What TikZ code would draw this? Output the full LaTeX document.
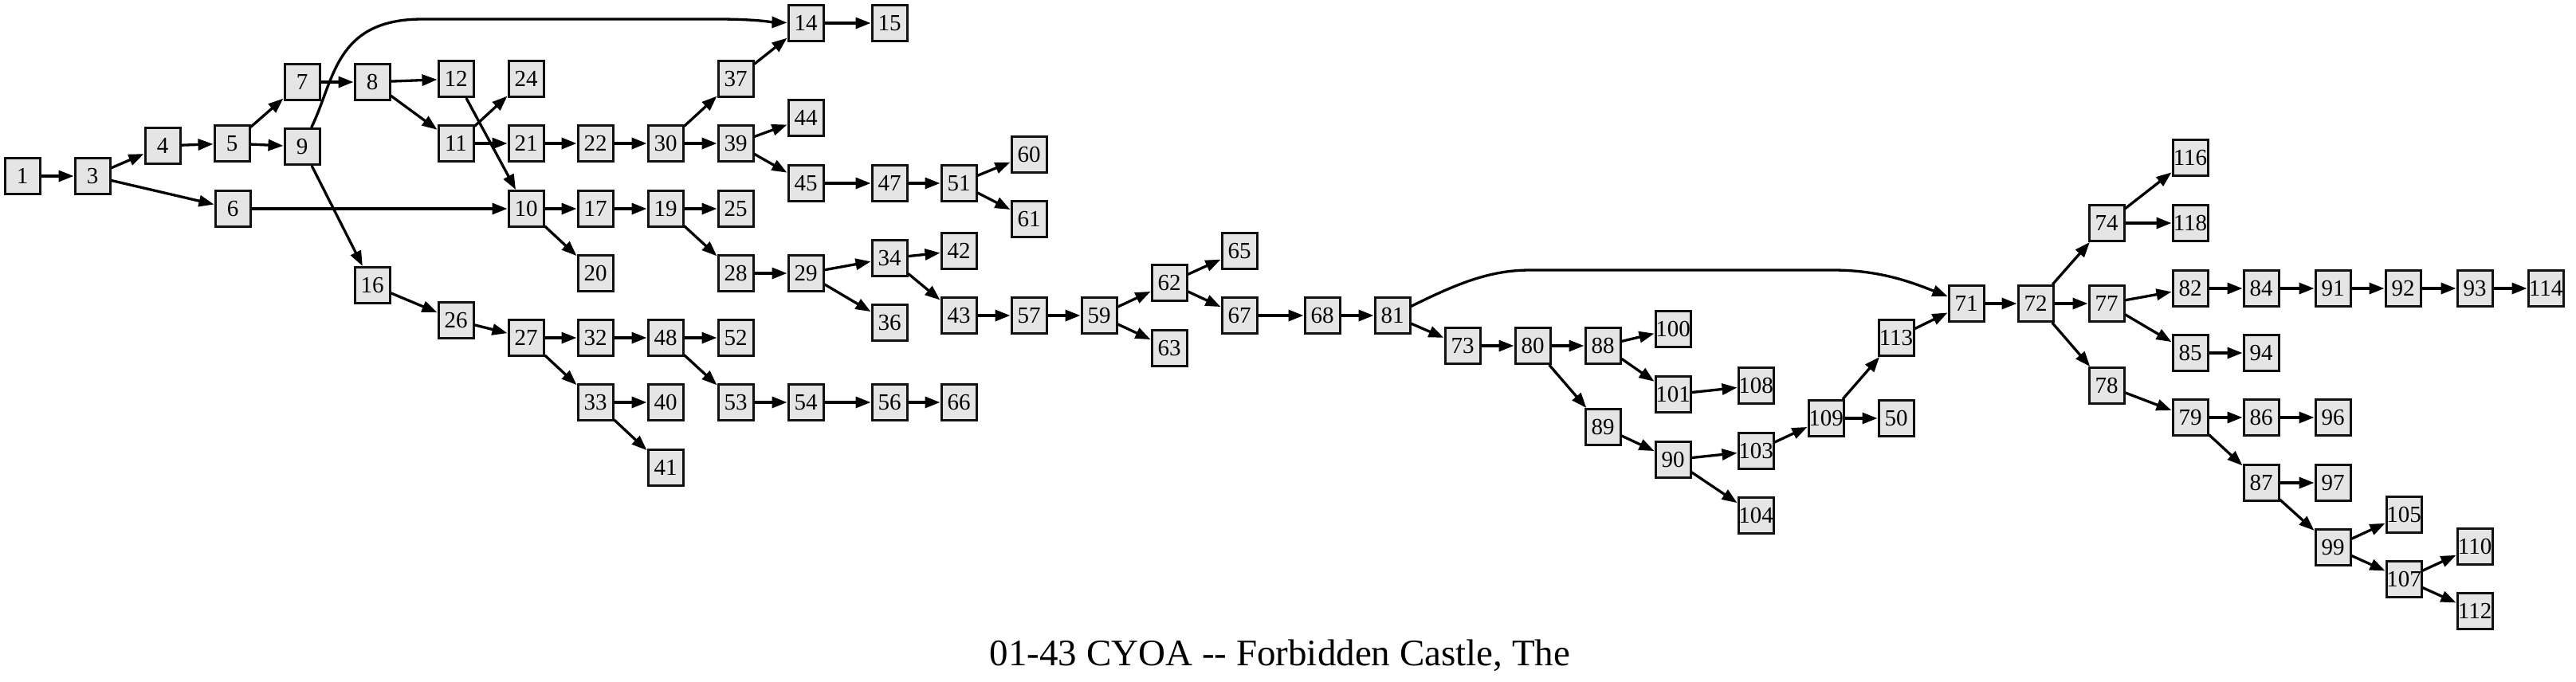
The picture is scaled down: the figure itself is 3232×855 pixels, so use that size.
\documentclass[tikz,border=0pt]{standalone}
\usepackage{fontspec}
\setmainfont{Liberation Serif}
\usetikzlibrary{arrows.meta}
\definecolor{boxfill}{HTML}{E5E5E5}
\definecolor{inkc}{HTML}{111111}
\begin{document}
\begin{tikzpicture}[x=1pt,y=-1pt,
  pg/.style={rectangle,draw=inkc,fill=boxfill,line width=3pt,minimum width=44pt,minimum height=45pt,inner sep=0pt,font=\fontsize{29}{32}\selectfont},
  edge/.style={line width=3.3pt,draw=black,-{Triangle[length=19pt,width=14pt]}},
  ttl/.style={anchor=base,font=\fontsize{47}{52}\selectfont}]
\useasboundingbox (0,0) rectangle (3232,855);
\foreach \n/\x/\y in {1/28/221,3/116/221,4/204/183,5/291/180,7/379/103,9/379/184,6/292/262,8/467/103,16/467/358,
12/572/99,11/572/180,24/660/99,21/660/180,10/660/262,26/572/402,22/747/180,17/747/262,20/747/343,27/660/424,
32/747/424,33/747/505,30/835/180,19/835/262,48/835/424,40/835/505,41/835/587,37/923/99,39/923/180,25/923/262,
28/923/343,52/923/424,53/923/505,14/1011/29,44/1011/148,45/1011/230,29/1011/343,54/1011/505,15/1116/29,
47/1116/230,34/1116/324,36/1116/405,56/1116/505,51/1203/230,42/1203/315,43/1203/396,66/1203/505,60/1291/194,
61/1291/275,57/1291/396,59/1379/396,62/1467/355,63/1467/437,65/1555/315,67/1555/396,68/1659/396,81/1747/396,
73/1835/434,80/1923/434,88/2011/434,89/2011/536,100/2099/413,101/2099/495,90/2099/577,108/2203/484,103/2203/566,
104/2203/647,109/2291/525,113/2379/424,50/2379/525,71/2467/381,72/2554/381,74/2643/280,77/2643/381,78/2643/484,
116/2748/198,118/2748/280,82/2748/362,85/2748/443,79/2748/524,84/2837/362,94/2837/443,86/2837/524,87/2837/606,
91/2927/362,96/2927/524,97/2927/606,99/2927/687,92/3015/362,105/3016/646,107/3016/727,93/3105/362,110/3105/686,
112/3105/767,114/3194/362}
  \node[pg] (n\n) at (\x,\y) {\n};
\foreach \a/\b in {1/3,3/4,3/6,4/5,5/7,5/9,7/8,9/16,6/10,8/12,8/11,12/10,11/24,11/21,21/22,22/30,30/37,30/39,
37/14,14/15,39/44,39/45,45/47,47/51,51/60,51/61,10/17,10/20,17/19,19/25,19/28,28/29,29/34,29/36,34/42,34/43,
43/57,57/59,59/62,59/63,62/65,62/67,67/68,68/81,81/73,73/80,80/88,80/89,88/100,88/101,101/108,89/90,90/103,
90/104,103/109,109/113,109/50,113/71,71/72,72/74,72/77,72/78,74/116,74/118,77/82,77/85,82/84,84/91,91/92,
92/93,93/114,85/94,78/79,79/86,86/96,79/87,87/97,87/99,99/105,99/107,107/110,107/112,16/26,26/27,27/32,
32/48,48/52,48/53,53/54,54/56,56/66,27/33,33/40,33/41}
  \draw[edge] (n\a) -- (n\b);
\draw[edge] (n9) .. controls (420,100) and (420,24) .. (530,24) -- (900,24) .. controls (950,24) and (970,28) .. (n14);
\draw[edge] (n81) .. controls (1830,355) and (1870,339) .. (1920,339) -- (2300,339) .. controls (2360,339) and (2400,355) .. (n71);
\node[ttl] (title) at (1606,835) {01-43 CYOA -{}- Forbidden Castle, The};
\end{tikzpicture}
\end{document}
